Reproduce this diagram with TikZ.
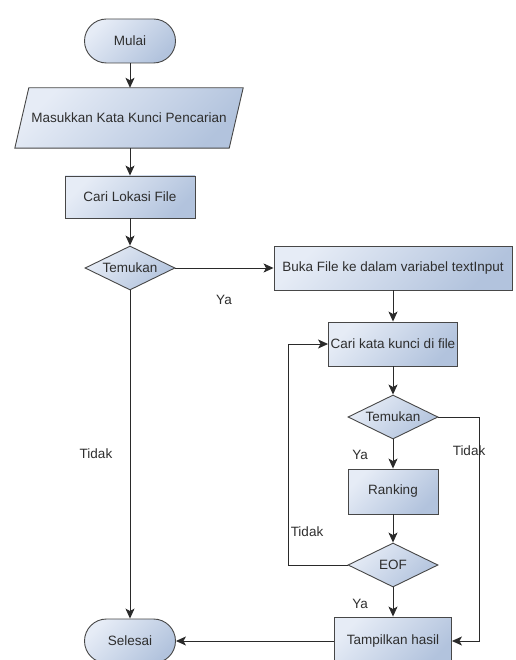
\documentclass[tikz,border=0pt]{standalone}
\usepackage{fontspec}
\setmainfont{Liberation Sans}
\usetikzlibrary{shapes.geometric,arrows.meta}
\definecolor{lightfill}{HTML}{E6ECF6}
\definecolor{darkfill}{HTML}{B2C3DD}
\definecolor{edgecol}{HTML}{474747}
\definecolor{txtcol}{HTML}{2E2E2E}
\definecolor{linecol}{HTML}{2A2A2A}
\begin{document}
\begin{tikzpicture}[x=1pt,y=-1pt,
  shadefill/.style={draw=edgecol, line width=0.9pt, top color=lightfill, bottom color=darkfill, shading angle=45},
  base/.style={shadefill, text=txtcol, font=\fontsize{13.5}{16}\selectfont, inner sep=0pt},
  terminal/.style={base, rectangle, rounded corners=22pt, minimum width=91pt, minimum height=44pt},
  process/.style={base, rectangle, minimum height=44pt},
  decision/.style={base, diamond, minimum width=90pt, minimum height=44pt, aspect=2},
  iotext/.style={text=txtcol, font=\fontsize{13.5}{16}\selectfont, inner sep=0pt, minimum width=228pt, minimum height=60pt},
  arrow/.style={draw=linecol, line width=0.9pt, -{Stealth[length=10pt,width=9pt,inset=2.5pt]}},
  lbl/.style={text=txtcol, font=\fontsize{13.5}{16}\selectfont, inner sep=0pt}]
\useasboundingbox (0,0) rectangle (515,660);
\fill[white] (0,0) rectangle (515,660);

\node[terminal] (mulai) at (130,41) {Mulai};
\node[iotext] (input) at (129,118) {};
\path[shadefill] (input.south west) -- ([xshift=14pt]input.north west) -- (input.north east) -- ([xshift=-14pt]input.south east) -- cycle;
\node[lbl] (inputtext) at (input.center) {Masukkan Kata Kunci Pencarian};
\node[process, minimum width=130pt, minimum height=42pt] (lokasi) at (130,197) {Cari Lokasi File};
\node[decision] (tem1) at (130,268) {Temukan};
\node[process, minimum width=238pt] (buka) at (393,268) {Buka File ke dalam variabel textInput};
\node[process, minimum width=129pt] (kata) at (393,344) {Cari kata kunci di file};
\node[decision] (tem2) at (393,417) {Temukan};
\node[process, minimum width=90pt, minimum height=45pt] (rank) at (393,491.5) {Ranking};
\node[decision] (eof) at (393,565) {EOF};
\node[process, minimum width=117pt, minimum height=48pt] (tampil) at (393,641) {Tampilkan hasil};
\node[terminal] (selesai) at (130,641) {Selesai};

\draw[arrow] (mulai) -- (mulai |- input.north);
\draw[arrow] (mulai |- input.south) -- (lokasi);
\draw[arrow] (lokasi) -- (tem1);
\draw[arrow] (tem1) -- (buka);
\draw[arrow] (buka) -- (kata);
\draw[arrow] (kata) -- (tem2);
\draw[arrow] (tem2) -- (rank);
\draw[arrow] (rank) -- (eof);
\draw[arrow] (eof) -- (tampil);
\draw[arrow] (tem2.east) -- ++(41,0) |- (tampil.east);
\draw[arrow] (eof.west) -- ++(-59,0) |- (kata.west);
\draw[arrow] (tem1) -- (selesai);
\draw[arrow] (tampil) -- (selesai);

\node[lbl] (ya1) at (224,300) {Ya};
\node[lbl] (tidak1) at (96,454) {Tidak};
\node[lbl] (ya2) at (360,455) {Ya};
\node[lbl] (tidak2) at (469,451) {Tidak};
\node[lbl] (tidak3) at (307,532) {Tidak};
\node[lbl] (ya3) at (360,604) {Ya};
\end{tikzpicture}
\end{document}
